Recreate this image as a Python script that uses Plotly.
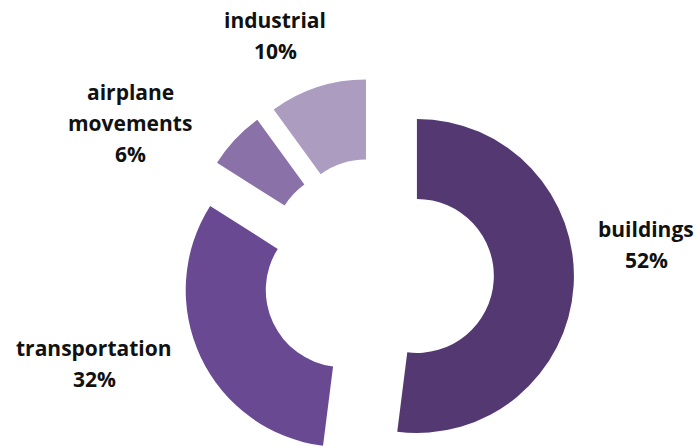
import math
import plotly.graph_objects as go

# Share of emissions by source
LABELS = ["buildings", "transportation", "airplane movements", "industrial"]
VALUES = [52, 32, 6, 10]
COLORS = ["#533872", "#694992", "#8a72a8", "#ab9cc0"]

# label lines as drawn beside each slice
LABEL_LINES = {
    "buildings": ["buildings"],
    "transportation": ["transportation"],
    "airplane movements": ["airplane", "movements"],
    "industrial": ["industrial"],
}
# pixel anchor (centre x, first-line y) for each label block
LABEL_POS = {
    "buildings": (646, 229),
    "transportation": (94, 348),
    "airplane movements": (130, 92),
    "industrial": (275, 20),
}

W, H = 700, 448
CX, CY = 378.0, 273.5   # centre of the un-exploded ring
R = 157.0               # outer radius in px
PULL_PX = 39.0          # explode distance in px
HOLE = 0.49
LINE_GAP = 31

fig = go.Figure()
total = sum(VALUES)
start = 0.0
for i, (lab, v) in enumerate(zip(LABELS, VALUES)):
    frac = v / total
    mid = (start + frac / 2) * 2 * math.pi   # clockwise from 12 o'clock
    start += frac
    # each slice is its own ring, shifted outwards along its mid-angle
    cx = CX + PULL_PX * math.sin(mid)
    cy = CY - PULL_PX * math.cos(mid)
    dom_x = [max(0, (cx - R) / W), min(1, (cx + R) / W)]
    dom_y = [max(0, 1 - (cy + R) / H), min(1, 1 - (cy - R) / H)]
    colors = ["rgba(0,0,0,0)"] * len(VALUES)
    colors[i] = COLORS[i]
    fig.add_trace(go.Pie(
        labels=LABELS,
        values=VALUES,
        sort=False,
        direction="clockwise",
        rotation=0,
        hole=HOLE,
        marker=dict(colors=colors, line=dict(width=0)),
        textinfo="none",
        hoverinfo="label+percent",
        domain=dict(x=dom_x, y=dom_y),
        showlegend=False,
    ))

annotations = []
for lab, v in zip(LABELS, VALUES):
    px, py = LABEL_POS[lab]
    lines = LABEL_LINES[lab] + [f"{v}%"]
    for k, line in enumerate(lines):
        annotations.append(dict(
            x=px / W, y=1 - (py + k * LINE_GAP) / H,
            xref="paper", yref="paper",
            text=f"<b>{line}</b>", showarrow=False,
            xanchor="center", yanchor="middle",
            font=dict(family="Open Sans", size=21, color="#111111"),
        ))

fig.update_layout(
    width=W, height=H,
    margin=dict(l=0, r=0, t=0, b=0),
    paper_bgcolor="white",
    plot_bgcolor="white",
    annotations=annotations,
)

fig.write_html("out.html")
